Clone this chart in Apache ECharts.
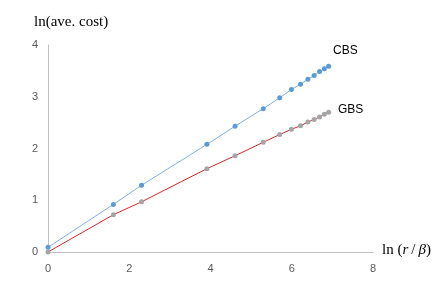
<!DOCTYPE html>
<html><head><meta charset="utf-8">
<script src="https://cdn.jsdelivr.net/npm/echarts@6/dist/echarts.min.js"></script>
<style>html,body{margin:0;padding:0;background:#fff}#c{width:444px;height:289px}</style>
</head><body><div id="c"></div>
<script>
var xValues = [0, 1.609, 2.303, 3.912, 4.605, 5.298, 5.704, 5.991, 6.215, 6.397, 6.551, 6.685, 6.802, 6.908];
var cbsValues = [0.09, 0.92, 1.29, 2.08, 2.43, 2.77, 2.98, 3.14, 3.24, 3.34, 3.41, 3.49, 3.54, 3.59];
var gbsValues = [0.0, 0.72, 0.97, 1.61, 1.86, 2.12, 2.27, 2.37, 2.44, 2.51, 2.56, 2.61, 2.66, 2.70];
var xTicks = [0, 2, 4, 6, 8];
var yTicks = [0, 1, 2, 3, 4];

function pairs(ys){ return xValues.map(function(x,i){return [x, ys[i]];}); }

var chart = echarts.init(document.getElementById('c'));
var labelColor = '#595959';
chart.setOption({
  animation:false,
  grid:{left:48, right:71, top:45, bottom:37},
  xAxis:{type:'value', min:xTicks[0], max:xTicks[xTicks.length-1], interval:2,
    axisLine:{lineStyle:{color:'#bfbfbf'}}, axisTick:{show:false}, splitLine:{show:false},
    axisLabel:{color:labelColor, fontSize:11, fontFamily:'Liberation Sans', margin:11},
    name:'{n|ln (}{i|r}{n|\u2009/\u2009}{i|β}{n|)}', nameLocation:'end', nameGap:9,
    nameTextStyle:{rich:{n:{fontFamily:'Liberation Serif', fontSize:15, color:'#000'}, i:{fontFamily:'Liberation Serif', fontStyle:'italic', fontSize:15, color:'#000'}}, padding:[0,0,4,0]}
  },
  yAxis:{type:'value', min:yTicks[0], max:yTicks[yTicks.length-1], interval:1,
    axisLine:{show:true, lineStyle:{color:'#bfbfbf'}}, axisTick:{show:false}, splitLine:{show:false},
    axisLabel:{color:labelColor, fontSize:11, fontFamily:'Liberation Sans', margin:10}
  },
  graphic:[
    {type:'text', left:34, top:15, style:{text:'ln(ave. cost)', font:'15px "Liberation Serif"', fill:'#000'}},
    {type:'text', left:333, top:45, style:{text:'CBS', font:'12px "Liberation Sans"', fill:'#000'}},
    {type:'text', left:338, top:104, style:{text:'GBS', font:'12px "Liberation Sans"', fill:'#000'}}
  ],
  series:[
    {type:'line', data:pairs(cbsValues), symbol:'circle', symbolSize:5, showAllSymbol:true,
      lineStyle:{color:'#7fb0e0', width:1}, itemStyle:{color:'#5b9bd5'}},
    {type:'line', data:pairs(gbsValues), symbol:'circle', symbolSize:5, showAllSymbol:true,
      lineStyle:{color:'#d9262b', width:1}, itemStyle:{color:'#a5a5a5'}}
  ]
});
</script></body></html>
